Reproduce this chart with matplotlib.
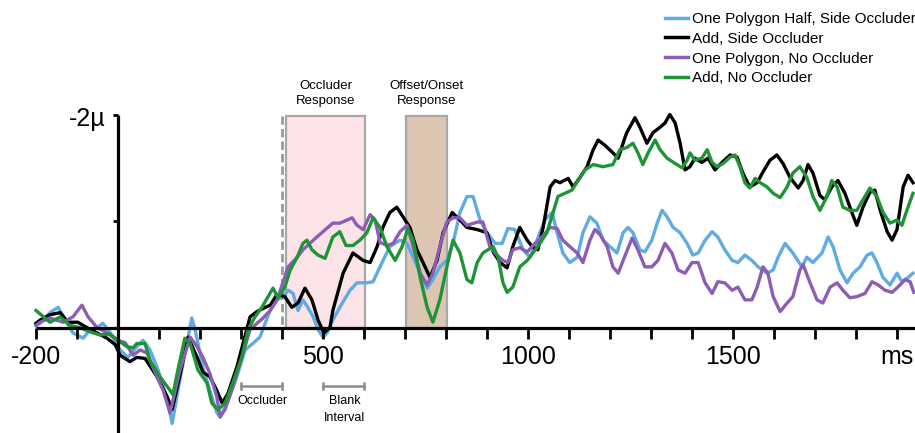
import matplotlib
matplotlib.use("Agg")
import matplotlib.pyplot as plt
from matplotlib.patches import Rectangle
from matplotlib.lines import Line2D

# ---------------- data (time in ms, amplitude in microvolts; negative plotted up) ----------------
series_labels = ["One Polygon Half, Side Occluder", "Add, Side Occluder",
                 "One Polygon, No Occluder", "Add, No Occluder"]
series_colors = ["#5fabe3", "#000000", "#8d5cb4", "#1f9437"]

blue_data = [(-200, -0.02), (-190, -0.04), (-166, -0.14), (-146, -0.19), (-124, -0.04), (-110, 0.05),
             (-85, 0.10), (-68, 0.02), (-51, 0.00), (-37, -0.04), (-15, 0.07), (5, 0.21), (24, 0.28),
             (46, 0.18), (61, 0.12), (78, 0.21), (98, 0.40), (120, 0.68), (132, 0.90), (151, 0.49),
             (180, -0.09), (188, 0.02), (207, 0.37), (224, 0.59), (241, 0.80), (249, 0.84), (266, 0.71),
             (290, 0.46), (310, 0.21), (329, 0.15), (346, 0.09), (359, -0.04), (371, -0.16), (388, -0.26),
             (402, -0.29), (415, -0.35), (427, -0.32), (439, -0.16), (451, -0.26), (463, -0.19),
             (476, -0.10), (488, 0.02), (500, 0.09), (510, 0.05), (524, -0.07), (541, -0.19), (566, -0.35),
             (583, -0.42), (607, -0.42), (622, -0.43), (644, -0.61), (663, -0.76), (688, -0.82),
             (705, -0.79), (720, -0.66), (737, -0.51), (754, -0.37), (768, -0.45), (785, -0.57),
             (802, -0.63), (817, -0.79), (834, -1.08), (851, -1.23), (866, -1.23), (883, -1.01),
             (900, -0.89), (920, -0.79), (937, -0.79), (951, -0.93), (968, -0.92), (988, -0.73),
             (1005, -0.66), (1022, -0.82), (1041, -1.01), (1059, -1.08), (1071, -0.89), (1085, -0.70),
             (1102, -0.61), (1120, -0.66), (1134, -0.89), (1151, -1.04), (1168, -0.98), (1183, -0.82),
             (1200, -0.76), (1217, -0.70), (1232, -0.89), (1244, -0.94), (1256, -0.89), (1273, -0.73),
             (1285, -0.71), (1302, -0.82), (1315, -0.98), (1327, -1.10), (1339, -1.04), (1354, -0.94),
             (1371, -0.89), (1388, -0.79), (1402, -0.68), (1415, -0.70), (1432, -0.82), (1449, -0.90),
             (1463, -0.85), (1480, -0.73), (1498, -0.63), (1512, -0.61), (1529, -0.68), (1546, -0.63),
             (1561, -0.57), (1583, -0.51), (1598, -0.54), (1610, -0.66), (1627, -0.79), (1646, -0.70),
             (1668, -0.57), (1680, -0.66), (1695, -0.61), (1717, -0.70), (1732, -0.85), (1744, -0.76),
             (1761, -0.54), (1778, -0.42), (1793, -0.51), (1810, -0.57), (1827, -0.68), (1839, -0.70),
             (1851, -0.61), (1866, -0.47), (1883, -0.40), (1900, -0.51), (1912, -0.43), (1927, -0.47),
             (1939, -0.51)]

black_data = [(-200, -0.04), (-190, -0.07), (-166, -0.12), (-141, -0.14), (-122, -0.05), (-98, -0.05),
              (-76, 0.00), (-51, 0.05), (-27, 0.10), (-7, 0.16), (5, 0.26), (29, 0.32), (46, 0.28),
              (66, 0.29), (95, 0.46), (120, 0.65), (132, 0.77), (151, 0.45), (171, 0.09), (193, 0.28),
              (207, 0.42), (224, 0.46), (241, 0.59), (254, 0.71), (268, 0.62), (290, 0.37), (305, 0.15),
              (322, -0.10), (339, -0.15), (354, -0.18), (371, -0.21), (388, -0.31), (407, -0.29),
              (424, -0.19), (439, -0.23), (456, -0.37), (473, -0.26), (488, -0.07), (502, 0.05),
              (517, 0.00), (524, -0.16), (549, -0.51), (573, -0.70), (598, -0.63), (615, -0.61),
              (632, -0.76), (646, -0.94), (663, -1.08), (680, -1.13), (695, -1.04), (712, -0.94),
              (729, -0.73), (744, -0.61), (761, -0.47), (778, -0.63), (793, -0.89), (815, -1.08),
              (834, -1.01), (851, -0.94), (876, -0.92), (900, -0.89), (915, -0.71), (932, -0.61),
              (949, -0.56), (963, -0.76), (980, -0.94), (998, -0.82), (1010, -0.76), (1024, -0.73),
              (1037, -0.94), (1054, -1.32), (1066, -1.38), (1078, -1.36), (1098, -1.40), (1110, -1.32),
              (1127, -1.41), (1144, -1.51), (1159, -1.67), (1171, -1.76), (1188, -1.71), (1207, -1.64),
              (1220, -1.59), (1237, -1.79), (1241, -1.83), (1261, -1.97), (1273, -1.88), (1290, -1.73),
              (1305, -1.83), (1322, -1.88), (1334, -1.92), (1346, -2.00), (1359, -1.92), (1371, -1.73),
              (1383, -1.48), (1395, -1.51), (1407, -1.59), (1424, -1.55), (1439, -1.59), (1456, -1.48),
              (1473, -1.55), (1493, -1.62), (1510, -1.60), (1524, -1.45), (1541, -1.32), (1559, -1.36),
              (1573, -1.46), (1590, -1.57), (1607, -1.62), (1622, -1.54), (1639, -1.41), (1659, -1.31),
              (1671, -1.38), (1683, -1.53), (1695, -1.45), (1712, -1.24), (1724, -1.20), (1741, -1.32),
              (1756, -1.38), (1773, -1.26), (1790, -1.08), (1802, -0.96), (1817, -1.13), (1834, -1.27),
              (1846, -1.29), (1859, -1.10), (1876, -0.90), (1888, -0.82), (1900, -0.92), (1915, -1.32),
              (1927, -1.43), (1939, -1.36)]

purple_data = [(-200, -0.02), (-190, -0.05), (-166, -0.09), (-134, -0.05), (-110, -0.10), (-88, -0.21),
               (-73, -0.10), (-51, 0.00), (-27, 0.05), (-2, 0.12), (17, 0.14), (37, 0.26), (54, 0.21),
               (71, 0.24), (85, 0.37), (110, 0.59), (127, 0.80), (151, 0.40), (176, 0.09), (193, 0.18),
               (207, 0.28), (224, 0.43), (241, 0.65), (249, 0.84), (261, 0.77), (280, 0.56), (302, 0.28),
               (322, 0.02), (339, -0.04), (354, -0.09), (371, -0.16), (388, -0.26), (402, -0.42),
               (415, -0.57), (437, -0.66), (451, -0.73), (468, -0.79), (485, -0.85), (500, -0.90),
               (524, -0.98), (541, -0.98), (571, -1.03), (583, -0.96), (598, -0.92), (615, -1.06),
               (627, -1.01), (639, -0.80), (656, -0.77), (671, -0.79), (688, -0.90), (705, -0.96),
               (720, -0.76), (737, -0.51), (754, -0.40), (768, -0.51), (785, -0.76), (802, -0.99),
               (817, -1.03), (834, -1.03), (851, -0.96), (876, -0.99), (890, -0.99), (907, -0.76),
               (924, -0.68), (939, -0.63), (951, -0.61), (963, -0.73), (980, -0.75), (998, -0.71),
               (1017, -0.79), (1034, -0.85), (1054, -0.94), (1071, -0.93), (1085, -0.82), (1102, -0.76),
               (1120, -0.70), (1134, -0.61), (1151, -0.82), (1163, -0.92), (1176, -0.87), (1193, -0.76),
               (1207, -0.57), (1220, -0.51), (1232, -0.63), (1254, -0.84), (1268, -0.73), (1285, -0.57),
               (1302, -0.57), (1317, -0.63), (1334, -0.79), (1351, -0.70), (1366, -0.54), (1383, -0.51),
               (1400, -0.61), (1415, -0.61), (1432, -0.42), (1449, -0.32), (1463, -0.43), (1480, -0.42),
               (1498, -0.35), (1512, -0.38), (1529, -0.26), (1546, -0.26), (1559, -0.38), (1573, -0.57),
               (1585, -0.51), (1598, -0.29), (1615, -0.15), (1632, -0.23), (1646, -0.29), (1663, -0.54),
               (1671, -0.59), (1688, -0.42), (1705, -0.26), (1719, -0.23), (1737, -0.38), (1754, -0.42),
               (1768, -0.35), (1785, -0.28), (1802, -0.29), (1822, -0.32), (1839, -0.43), (1854, -0.40),
               (1871, -0.35), (1888, -0.33), (1902, -0.38), (1920, -0.45), (1932, -0.43), (1941, -0.33)]

green_data = [(-200, -0.16), (-166, -0.05), (-141, -0.10), (-117, -0.02), (-93, 0.00), (-68, 0.04),
              (-44, 0.07), (-20, 0.06), (0, 0.12), (22, 0.18), (37, 0.19), (46, 0.15), (66, 0.15),
              (78, 0.31), (102, 0.46), (127, 0.59), (134, 0.63), (146, 0.40), (163, 0.10), (176, 0.15),
              (195, 0.40), (217, 0.52), (229, 0.71), (244, 0.77), (261, 0.71), (280, 0.52), (302, 0.28),
              (317, 0.02), (334, -0.10), (351, -0.19), (366, -0.29), (378, -0.37), (390, -0.28),
              (407, -0.38), (420, -0.54), (437, -0.66), (451, -0.79), (461, -0.82), (473, -0.73),
              (488, -0.68), (505, -0.65), (524, -0.85), (541, -0.90), (556, -0.77), (573, -0.77),
              (590, -0.82), (607, -0.89), (622, -1.03), (639, -0.94), (656, -0.76), (676, -0.63),
              (693, -0.76), (707, -0.93), (720, -0.82), (737, -0.47), (754, -0.19), (768, -0.05),
              (785, -0.26), (802, -0.57), (817, -0.82), (834, -0.70), (851, -0.45), (863, -0.42),
              (876, -0.61), (890, -0.70), (915, -0.76), (927, -0.66), (939, -0.42), (949, -0.33),
              (963, -0.38), (980, -0.57), (998, -0.63), (1012, -0.70), (1029, -0.79), (1046, -0.89),
              (1061, -1.08), (1073, -1.23), (1090, -1.26), (1107, -1.29), (1122, -1.38), (1139, -1.48),
              (1159, -1.53), (1183, -1.51), (1207, -1.53), (1224, -1.67), (1241, -1.69), (1256, -1.73),
              (1268, -1.64), (1280, -1.53), (1293, -1.64), (1310, -1.76), (1322, -1.67), (1339, -1.59),
              (1359, -1.54), (1376, -1.50), (1388, -1.57), (1395, -1.64), (1407, -1.57), (1424, -1.59),
              (1437, -1.67), (1449, -1.55), (1461, -1.51), (1476, -1.54), (1493, -1.60), (1505, -1.62),
              (1517, -1.51), (1529, -1.36), (1541, -1.31), (1554, -1.40), (1566, -1.36), (1583, -1.32),
              (1598, -1.26), (1615, -1.22), (1632, -1.32), (1646, -1.45), (1663, -1.51), (1680, -1.41),
              (1695, -1.23), (1712, -1.10), (1729, -1.23), (1741, -1.38), (1754, -1.32), (1768, -1.13),
              (1785, -1.10), (1802, -1.10), (1817, -1.20), (1834, -1.31), (1851, -1.23), (1866, -1.08),
              (1883, -0.98), (1900, -1.01), (1912, -0.96), (1924, -1.10), (1939, -1.26)]

xtick_positions = list(range(-200, 1901, 100))
xtick_labels = {-200: "-200", 500: "500", 1000: "1000", 1500: "1500", 1900: "ms"}
ytick_positions = [-2, -1]

# shaded windows (ms) and brackets
occluder_resp = (410, 602)
offset_resp = (702, 802)
occluder_bar = (300, 400)
blank_bar = (500, 600)

FONT = "Liberation Sans"

# ---------------- figure ----------------
fig = plt.figure(figsize=(9.15, 4.33), dpi=100)
ax = fig.add_axes([0, 0, 1, 1])
ax.set_xlim(-287.8, 1943.9)
ax.set_ylim(0.99, -3.075)   # negative up
ax.axis("off")

# shaded response windows
ax.add_patch(Rectangle((occluder_resp[0], -1.99), occluder_resp[1] - occluder_resp[0], 1.99,
                       facecolor="#fce3e7", edgecolor="#a8a8a8", lw=1.6, zorder=1))
ax.add_patch(Rectangle((offset_resp[0], -1.99), offset_resp[1] - offset_resp[0], 1.99,
                       facecolor="#dcc6b1", edgecolor="#a8a8a8", lw=1.6, zorder=1))
ax.plot([400, 400], [-1.99, 0], color="#9a9a9a", lw=2.0, ls=(0, (3, 1.5)), zorder=1.5)

# curves
for data, color, label in zip([blue_data, black_data, purple_data, green_data],
                              series_colors, series_labels):
    t = [p[0] for p in data]
    v = [p[1] for p in data]
    ax.plot(t, v, color=color, lw=2.4, solid_joinstyle="round", zorder=3, label=label)

# axes lines
ax.plot([-200, 1944], [0, 0], color="black", lw=2.3, zorder=4, solid_capstyle="butt")
ax.plot([0, 0], [-2.0, 0.99], color="black", lw=2.3, zorder=4, solid_capstyle="butt")
for t in xtick_positions:
    ax.plot([t, t], [0, 0.11], color="black", lw=2.0, zorder=4, solid_capstyle="butt")
for v in ytick_positions:
    ax.plot([-11, 0], [v, v], color="black", lw=2.0, zorder=4, solid_capstyle="butt")

for t, lab in xtick_labels.items():
    ax.text(t, 0.28, lab, ha="center", va="center", fontsize=18, family=FONT)
ax.text(-30, -1.96, "-2\u00b5", ha="right", va="center", fontsize=18, family=FONT)

# annotations above
ax.text((occluder_resp[0] + occluder_resp[1]) / 2, -2.2, "Occluder\nResponse", ha="center",
        va="center", fontsize=9.5, family=FONT, linespacing=1.35)
ax.text((offset_resp[0] + offset_resp[1]) / 2, -2.2, "Offset/Onset\nResponse", ha="center",
        va="center", fontsize=9.5, family=FONT, linespacing=1.35)

# brackets below
for (a, b) in [occluder_bar, blank_bar]:
    ax.plot([a, b], [0.55, 0.55], color="#8c8c8c", lw=1.8)
    ax.plot([a, a], [0.52, 0.58], color="#8c8c8c", lw=1.8)
    ax.plot([b, b], [0.52, 0.58], color="#8c8c8c", lw=1.8)
ax.text(sum(occluder_bar) / 2 + 2, 0.69, "Occluder", ha="center", va="center", fontsize=9, family=FONT)
ax.text(sum(blank_bar) / 2 + 2, 0.69, "Blank", ha="center", va="center", fontsize=9, family=FONT)
ax.text(sum(blank_bar) / 2 + 2, 0.85, "Interval", ha="center", va="center", fontsize=9, family=FONT)

# legend
leg_handles = [Line2D([0], [0], color=c, lw=2.5) for c in series_colors]
fig.legend(leg_handles, series_labels, loc="upper left", bbox_to_anchor=(665 / 915, 1 - 12 / 433),
           frameon=False, prop={"family": FONT, "size": 11}, handlelength=1.5,
           handletextpad=0.3, labelspacing=0.38, borderpad=0, borderaxespad=0)

fig.savefig("out.png", dpi=100)
